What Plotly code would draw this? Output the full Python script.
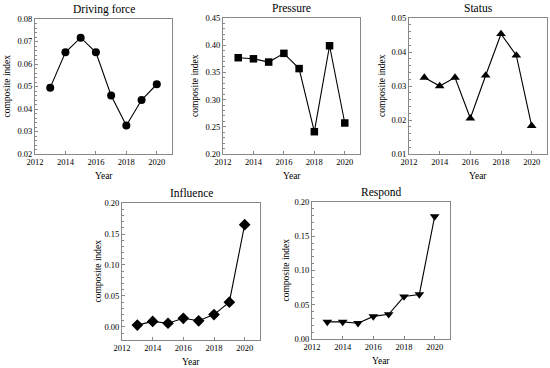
import plotly.graph_objects as go

years = [2013, 2014, 2015, 2016, 2017, 2018, 2019, 2020]
driving_force = [0.0495, 0.0652, 0.0717, 0.0652, 0.0460, 0.0327, 0.0440, 0.0510]
pressure = [0.377, 0.375, 0.369, 0.385, 0.357, 0.241, 0.399, 0.257]
status = [0.0325, 0.0300, 0.0325, 0.0205, 0.0331, 0.0453, 0.0390, 0.0183]
influence = [0.003, 0.009, 0.006, 0.014, 0.010, 0.020, 0.040, 0.165]
respond = [0.025, 0.025, 0.023, 0.033, 0.036, 0.062, 0.065, 0.179]

titles = ["Driving force", "Pressure", "Status", "Influence", "Respond"]
series = [driving_force, pressure, status, influence, respond]
symbols = ["circle", "square", "triangle-up", "diamond", "triangle-down"]
msizes = [8, 7.5, 8.5, 9, 8.5]
yranges = [[0.02, 0.08], [0.20, 0.45], [0.01, 0.05], [-0.021, 0.20], [0.0, 0.20]]
ydticks = [0.01, 0.05, 0.01, 0.05, 0.05]
ylabels = ["composite index", "composite index", "composite index", "composite index", "composite index"]

W, H = 550, 368
# pixel boxes: (left, right, top, bottom)
boxes = [(35, 172, 19, 154), (223, 360, 18, 154), (409, 547, 18, 154),
         (122, 260, 203, 340), (312, 450, 202, 339)]
ylab_x = [7, 195, 382, 97, 285]

font = "Liberation Serif, Times New Roman, DejaVu Serif, serif"
fig = go.Figure()
layout = dict(width=W, height=H, margin=dict(l=0, r=0, t=0, b=0, autoexpand=False),
              paper_bgcolor="white", plot_bgcolor="white", showlegend=False,
              font=dict(family=font, color="black"))
annotations = []
for i, (vals, sym) in enumerate(zip(series, symbols)):
    n = "" if i == 0 else str(i + 1)
    fig.add_trace(go.Scatter(x=years, y=vals, mode="lines+markers",
                             xaxis="x" + n, yaxis="y" + n,
                             line=dict(color="black", width=1.1),
                             marker=dict(symbol=sym, size=msizes[i], color="black")))
    l, r, t, b = boxes[i]
    common = dict(showline=True, linecolor="#888", linewidth=1, mirror=True,
                  showgrid=False, zeroline=False, ticks="inside", ticklen=3,
                  automargin=False,
                  tickcolor="#888", tickfont=dict(family=font, size=8.5, color="black"))
    layout["xaxis" + n] = dict(domain=[l / W, r / W], range=[2012, 2021],
                               tickvals=[2012, 2014, 2016, 2018, 2020],
                               anchor="y" + n, **common)
    layout["yaxis" + n] = dict(domain=[1 - b / H, 1 - t / H], range=yranges[i],
                               dtick=ydticks[i], tick0=0, tickformat=".2f",
                               minor=dict(ticks="inside", ticklen=2, tickcolor="#888",
                                          dtick=ydticks[i] / 5),
                               anchor="x" + n, **common)
    annotations.append(dict(text=titles[i], x=(l + r) / 2 / W, y=1 - (t - 10) / H,
                            xref="paper", yref="paper", showarrow=False,
                            font=dict(family=font, size=11.5, color="black"),
                            xanchor="center", yanchor="middle"))
    annotations.append(dict(text="Year", x=(l + r) / 2 / W, y=1 - (b + 22) / H,
                            xref="paper", yref="paper", showarrow=False,
                            font=dict(family=font, size=9.5, color="black"),
                            xanchor="center", yanchor="middle"))
    annotations.append(dict(text=ylabels[i], x=ylab_x[i] / W, y=1 - (t + b) / 2 / H,
                            xref="paper", yref="paper", showarrow=False, textangle=-90,
                            font=dict(family=font, size=9.5, color="black"),
                            xanchor="center", yanchor="middle"))
layout["annotations"] = annotations
fig.update_layout(**layout)
fig.write_html("out.html", config={"displayModeBar": False},
               post_script="document.body.style.margin='0';document.body.style.overflow='hidden';")
